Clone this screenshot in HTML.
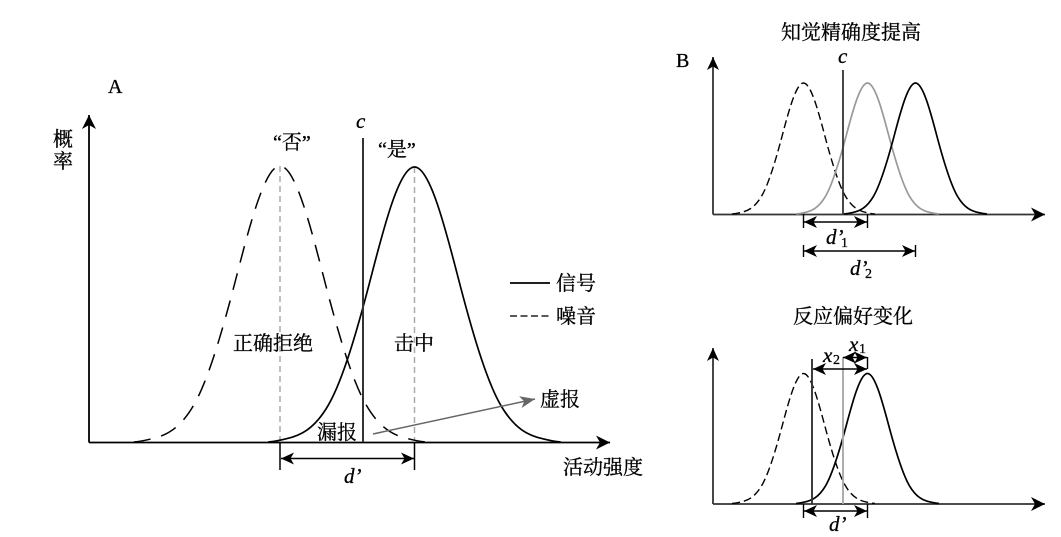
<!DOCTYPE html>
<html><head><meta charset="utf-8">
<style>
html,body{margin:0;padding:0;background:#fff;width:1061px;height:537px;overflow:hidden}
svg{display:block}
text{font-family:"Liberation Serif","Noto Serif CJK SC",serif;fill:#000;stroke:#000;stroke-width:.3px}
.z{font-size:20px}
.i{font-style:italic;font-size:21px}
.l{font-size:20px}
.s{font-size:14px}
</style></head><body>
<svg width="1061" height="537" viewBox="0 0 1061 537" xmlns="http://www.w3.org/2000/svg">
<defs>
<path id="g" vector-effect="non-scaling-stroke" fill="none" d="M-3.4 0C-3.25 .002 -3.13 .006 -3 .0111C-2.667 .0222 -2.333 .0451 -2 .1353C-1.667 .2255 -1.333 .4043 -1 .6065C-.667 .8087 -.333 1 0 1C.333 1 .667 .8087 1 .6065C1.333 .4043 1.667 .2255 2 .1353C2.333 .0451 2.667 .0222 3 .0111C3.13 .006 3.25 .002 3.4 0"/>
<marker id="a" markerUnits="userSpaceOnUse" markerWidth="16" markerHeight="14" refX="14" refY="7" orient="auto-start-reverse"><path d="M0 0L14 7L0 14L4 7Z" fill="#000"/></marker>
<marker id="b" markerUnits="userSpaceOnUse" markerWidth="14" markerHeight="12" refX="13" refY="6" orient="auto-start-reverse"><path d="M0 0L13 6L0 12L3.5 6Z" fill="#000"/></marker>
<marker id="c" markerUnits="userSpaceOnUse" markerWidth="16" markerHeight="12" refX="15" refY="6" orient="auto"><path d="M0 0L15 6L0 12L4 6Z" fill="#666"/></marker>
</defs>

<!-- Panel A -->
<g stroke="#000" stroke-width="1.8" fill="none">
<line x1="89" y1="442.5" x2="89" y2="115" marker-end="url(#a)"/>
<line x1="89" y1="442.5" x2="610" y2="442.5" marker-end="url(#a)"/>
</g>
<g stroke="#aaa" stroke-width="1.5" stroke-dasharray="6 4">
<line x1="280" y1="166" x2="280" y2="442"/>
<line x1="414.5" y1="167" x2="414.5" y2="442"/>
</g>
<use href="#g" transform="translate(280,442) scale(43,-276)" stroke="#000" stroke-width="1.5" stroke-dasharray="17 11"/>
<use href="#g" transform="translate(414.5,442) scale(43,-275)" stroke="#000" stroke-width="1.7"/>
<line x1="363" y1="138" x2="363" y2="442" stroke="#333" stroke-width="2"/>
<line x1="373" y1="434" x2="535" y2="399" stroke="#666" stroke-width="1.5" marker-end="url(#c)"/>
<g stroke="#000" stroke-width="1.5">
<line x1="280" y1="442" x2="280" y2="470"/>
<line x1="414.5" y1="442" x2="414.5" y2="470"/>
<line x1="281" y1="458.5" x2="414" y2="458.5" marker-start="url(#b)" marker-end="url(#b)"/>
<line x1="510" y1="283" x2="550" y2="283" stroke-width="1.7"/>
<line x1="510" y1="316" x2="550" y2="316" stroke="#222" stroke-dasharray="7 3.5"/>
</g>
<text x="108" y="93" class="l">A</text>
<text x="53" y="146" class="z">概</text>
<text x="53" y="168" class="z">率</text>
<text x="273" y="149" class="z">“否”</text>
<text x="378" y="156" class="z">“是”</text>
<text x="356" y="128" class="i">c</text>
<text x="556" y="290" class="z">信号</text>
<text x="556" y="323" class="z">噪音</text>
<text x="233" y="350" class="z">正确拒绝</text>
<text x="394" y="350" class="z">击中</text>
<text x="540" y="406" class="z">虚报</text>
<text x="317" y="439" class="z">漏报</text>
<text x="563" y="474" class="z">活动强度</text>
<text x="344" y="483" class="i">d’</text>

<!-- Panel B top -->
<text x="781" y="39" class="z">知觉精确度提高</text>
<text x="676" y="67" class="l">B</text>
<text x="838" y="63" class="i">c</text>
<g stroke="#333" stroke-width="1.8" fill="none">
<line x1="713" y1="214.5" x2="713" y2="57" marker-end="url(#b)"/>
<line x1="713" y1="214.5" x2="1045" y2="214.5" marker-end="url(#a)"/>
</g>
<use href="#g" transform="translate(803.5,214) scale(21,-131)" stroke="#000" stroke-width="1.4" stroke-dasharray="8 4"/>
<use href="#g" transform="translate(867.5,214) scale(21,-131)" stroke="#999" stroke-width="1.7"/>
<use href="#g" transform="translate(915.5,214) scale(21,-131)" stroke="#000" stroke-width="1.7"/>
<line x1="843" y1="70" x2="843" y2="214" stroke="#333" stroke-width="1.8"/>
<g stroke="#000" stroke-width="1.4">
<line x1="803.5" y1="214" x2="803.5" y2="228"/>
<line x1="867.5" y1="214" x2="867.5" y2="228"/>
<line x1="804" y1="222" x2="867" y2="222" marker-start="url(#b)" marker-end="url(#b)"/>
<line x1="803.5" y1="245" x2="803.5" y2="257"/>
<line x1="915.5" y1="245" x2="915.5" y2="257"/>
<line x1="804" y1="251" x2="915" y2="251" marker-start="url(#b)" marker-end="url(#b)"/>
</g>
<text x="826" y="244" class="i">d’</text><text x="841" y="247" class="s">1</text>
<text x="850" y="275" class="i">d’</text><text x="865" y="278" class="s">2</text>

<!-- Panel B bottom -->
<text x="793" y="323" class="z">反应偏好变化</text>
<g stroke="#333" stroke-width="1.8" fill="none">
<line x1="713" y1="504" x2="713" y2="348" marker-end="url(#b)"/>
<line x1="713" y1="504" x2="1045" y2="504" marker-end="url(#a)"/>
</g>
<use href="#g" transform="translate(803.5,503.5) scale(21,-130)" stroke="#000" stroke-width="1.4" stroke-dasharray="8 4"/>
<use href="#g" transform="translate(867.5,503.5) scale(21,-130)" stroke="#000" stroke-width="1.7"/>
<line x1="812" y1="359" x2="812" y2="504" stroke="#333" stroke-width="1.9"/>
<line x1="843" y1="357" x2="843" y2="504" stroke="#aaa" stroke-width="1.9"/>
<g stroke="#000" stroke-width="1.4" fill="none">
<line x1="813" y1="369" x2="867" y2="369" marker-start="url(#b)" marker-end="url(#b)"/>
<line x1="843" y1="357.5" x2="867" y2="357.5" marker-start="url(#b)" marker-end="url(#b)"/>
<line x1="867.5" y1="357" x2="867.5" y2="369"/>
<line x1="803.5" y1="504" x2="803.5" y2="518"/>
<line x1="867.5" y1="504" x2="867.5" y2="518"/>
<line x1="804" y1="511" x2="867" y2="511" marker-start="url(#b)" marker-end="url(#b)"/>
</g>
<text x="849" y="351" class="i">x</text><text x="859" y="353" class="s">1</text>
<text x="823" y="362" class="i">x</text><text x="833" y="364" class="s">2</text>
<text x="829" y="531" class="i">d’</text>
</svg>
</body></html>
